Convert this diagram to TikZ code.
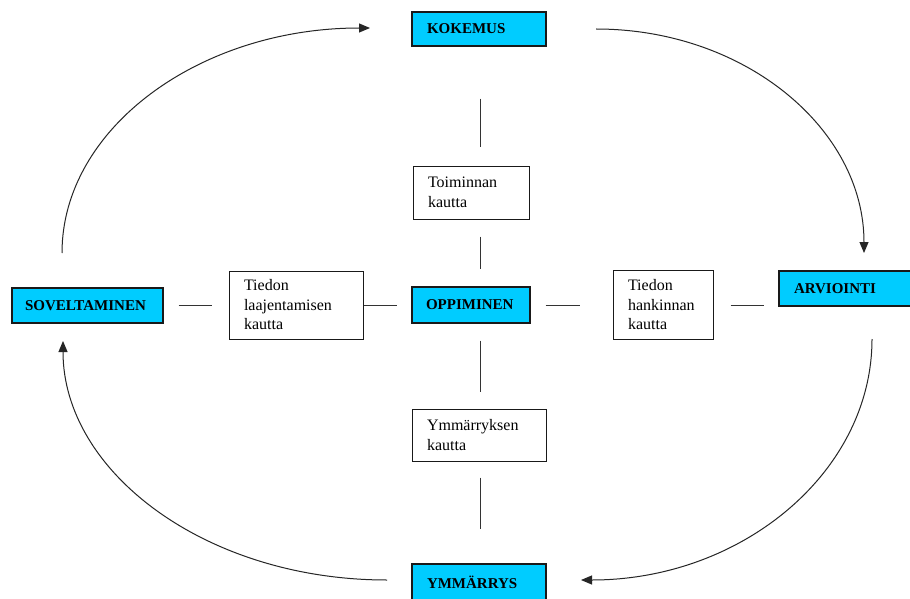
\documentclass[tikz,border=0pt]{standalone}
\usepackage{fontspec}
\setmainfont{Liberation Serif}
\usetikzlibrary{arrows.meta}
\definecolor{boxcyan}{HTML}{00CCFF}
\definecolor{linegray}{HTML}{333333}
\begin{document}
\begin{tikzpicture}[x=1pt,y=-1pt,
  stagebox/.style={draw=black!90, line width=1.1pt, fill=boxcyan, inner xsep=15pt,
    align=left, font=\fontsize{15}{17}\selectfont\bfseries},
  waybox/.style={draw=black!90, line width=1pt, fill=white, inner xsep=15pt,
    align=left, font=\fontsize{16}{19.5}\selectfont},
  link/.style={draw=linegray, line width=1pt},
  cycle/.style={draw=black!85, line width=1pt, -{Triangle[length=11pt,width=9pt]}}]
\clip (0,0) rectangle (910,599);
\useasboundingbox (0,0) rectangle (910,599);
\fill[white] (0,0) rectangle (910,599);

% stages of the cycle
\node[stagebox, minimum width=134, minimum height=34, text width=104] (kok) at (479,29) {KOKEMUS};
\node[stagebox, minimum width=151, minimum height=35, text width=125, inner xsep=13pt] (sov) at (87.5,305.5) {SOVELTAMINEN};
\node[stagebox, minimum width=118, minimum height=36, text width=90, inner xsep=14pt] (opp) at (471,305) {OPPIMINEN};
\node[stagebox, minimum width=151, minimum height=35, text width=121] (arv) at (854.5,288.5) {ARVIOINTI};
\node[stagebox, minimum width=134, minimum height=36, text width=104] (ymm) at (479,582) {YMMÄRRYS};

% ways of learning
\node[waybox, minimum width=116, minimum height=53, text width=86] (toim) at (471,192.5) {Toiminnan\\kautta};
\node[waybox, minimum width=134, minimum height=68, text width=104] (laaj) at (296,305) {Tiedon\\laajentamisen\\kautta};
\node[waybox, minimum width=100, minimum height=69, text width=70] (hank) at (663,305) {Tiedon\\hankinnan\\kautta};
\node[waybox, minimum width=134, minimum height=52, text width=104] (ymk) at (479,435) {Ymmärryksen\\kautta};

% vertical axis of the links
\coordinate (axis) at (480,0);
\draw[link, shorten <=52pt, shorten >=18pt] (axis |- kok.south) -- (axis |- toim.north);
\draw[link, shorten <=17pt, shorten >=17pt] (axis |- toim.south) -- (axis |- opp.north);
\draw[link, shorten <=17pt, shorten >=17pt] (axis |- opp.south) -- (axis |- ymk.north);
\draw[link, shorten <=16pt, shorten >=34pt] (axis |- ymk.south) -- (axis |- ymm.north);

% horizontal links
\draw[link, shorten <=15pt, shorten >=17pt] (sov.east |- laaj.west) -- (laaj.west);
\draw[link, shorten >=14pt] (laaj.east) -- (opp.west);
\draw[link, shorten <=15pt, shorten >=33pt] (opp.east) -- (hank.west);
\draw[link, shorten <=17pt, shorten >=14pt] (hank.east) -- (arv.west |- hank.east);

% the learning cycle
\coordinate (c1s) at (62,253);
\coordinate (c1e) at (370,28);
\coordinate (c2s) at (596,29);
\coordinate (c2e) at (864,253);
\coordinate (c3s) at (872,339);
\coordinate (c3e) at (581,580);
\coordinate (c4s) at (387,580);
\coordinate (c4e) at (63,341);
\draw[cycle] (c1s) .. controls (62,128) and (200,28) .. (c1e);
\draw[cycle] (c2s) .. controls (745,29) and (864,129) .. (c2e);
\draw[cycle] (c3s) .. controls (872,472) and (742,580) .. (c3e);
\draw[cycle] (c4s) .. controls (206,580) and (63,472) .. (c4e);
\end{tikzpicture}
\end{document}
